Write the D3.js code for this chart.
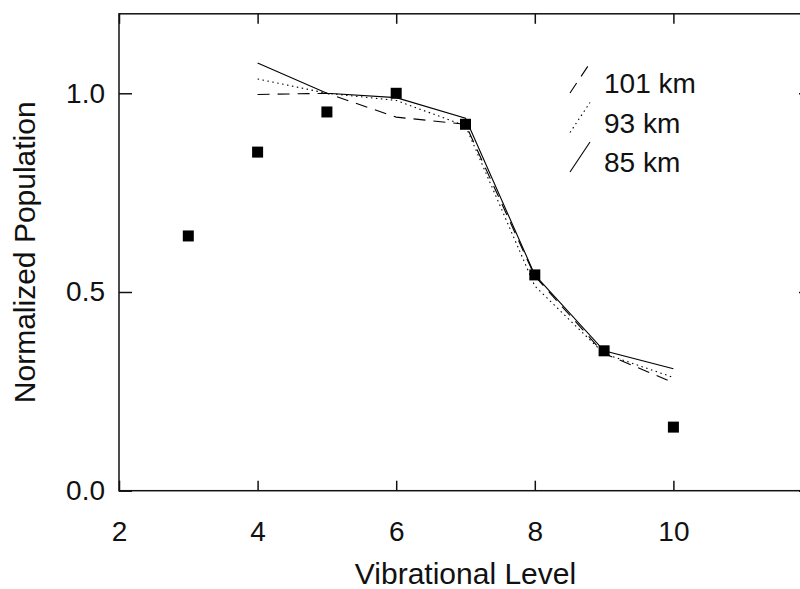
<!DOCTYPE html>
<html>
<head>
<meta charset="utf-8">
<script src="https://cdn.jsdelivr.net/npm/d3@7"></script>
<style>
  body { margin: 0; background: #fff; }
  svg { display: block; }
  text { font-family: "Liberation Sans", Arial, Helvetica, sans-serif; fill: #111; }
</style>
</head>
<body>
<svg id="chart" width="800" height="589"></svg>
<script>
// measured populations (squares)
const levels = [3, 4, 5, 6, 7, 8, 9, 10];
const measured = [0.641, 0.852, 0.953, 1.0, 0.922, 0.543, 0.352, 0.160];

// model curves, one per altitude
const modelLevels = [4, 5, 6, 7, 8, 9, 10];
const model101 = [0.997, 1.0, 0.94, 0.922, 0.54, 0.345, 0.272];
const model93 = [1.036, 1.0, 0.982, 0.918, 0.515, 0.345, 0.285];
const model85 = [1.076, 1.0, 0.989, 0.937, 0.543, 0.352, 0.307];

const legendNames = ["101 km", "93 km", "85 km"];
const xTicks = [2, 4, 6, 8, 10];
const yTicks = [0, 0.5, 1.0];

const svg = d3.select("#chart");

const plotLeft = 119, plotRight = 812, plotTop = 13.8, plotBottom = 490.7;

const x = d3.scaleLinear().domain([2, 12]).range([plotLeft, plotRight]);
const y = d3.scaleLinear().domain([0, 1.2]).range([plotBottom, plotTop]);

const fontSize = "28px";
const titleSize = "30px";

/**
 * Draws an inward-ticked axis and strips its domain path.
 */
function drawAxis(axis, tx, ty, withLabels) {
  let g = svg.append("g")
    .attr("transform", "translate(" + tx + "," + ty + ")")
    .call(axis);
  g.select(".domain").remove();
  g.selectAll(".tick line").attr("stroke", "#111").attr("stroke-width", 1.5);
  if (withLabels) {
    g.selectAll(".tick text")
      .attr("font-size", fontSize)
      .attr("fill", "#111");
  }
  return g;
}

// bottom axis with labels
drawAxis(
  d3.axisBottom(x).tickValues(xTicks).tickSizeInner(-10).tickSizeOuter(0).tickPadding(30),
  0, plotBottom, true
);
// top axis, ticks only
drawAxis(
  d3.axisTop(x).tickValues(xTicks).tickSizeInner(-10).tickSizeOuter(0).tickFormat(""),
  0, plotTop, false
);
// left axis with labels
drawAxis(
  d3.axisLeft(y).tickValues(yTicks).tickSizeInner(-13).tickSizeOuter(0)
    .tickPadding(14).tickFormat(d3.format(".1f")),
  plotLeft, 0, true
);
// right axis, ticks only
drawAxis(
  d3.axisRight(y).tickValues(yTicks).tickSizeInner(-13).tickSizeOuter(0).tickFormat(""),
  plotRight, 0, false
);

// frame
svg.append("rect")
  .attr("x", plotLeft)
  .attr("y", plotTop)
  .attr("width", plotRight - plotLeft)
  .attr("height", plotBottom - plotTop)
  .attr("fill", "none")
  .attr("stroke", "#111")
  .attr("stroke-width", 1.5);

// model curves
const curves = [
  { name: legendNames[0], values: model101, dash: "12,8" },
  { name: legendNames[1], values: model93, dash: "1.5,3.5" },
  { name: legendNames[2], values: model85, dash: null }
];

const line = d3.line()
  .x((d) => x(d[0]))
  .y((d) => y(d[1]));

curves.forEach(function (c) {
  svg.append("path")
    .datum(modelLevels.map((lv, i) => [lv, c.values[i]]))
    .attr("d", line)
    .attr("fill", "none")
    .attr("stroke", "#000")
    .attr("stroke-width", 1.1)
    .attr("stroke-dasharray", c.dash);
});

// measured squares
const sq = 11;
svg.selectAll("rect.pt")
  .data(levels.map((lv, i) => [lv, measured[i]]))
  .enter()
  .append("rect")
  .attr("class", "pt")
  .attr("x", (d) => x(d[0]) - sq / 2)
  .attr("y", (d) => y(d[1]) - sq / 2)
  .attr("width", sq)
  .attr("height", sq)
  .attr("fill", "#000");

// legend: slanted line samples beside labels
curves.forEach(function (c, i) {
  let base = 93 + i * 39.5;
  svg.append("line")
    .attr("x1", 570)
    .attr("y1", base)
    .attr("x2", 590)
    .attr("y2", base - 30)
    .attr("stroke", "#000")
    .attr("stroke-width", 1.1)
    .attr("stroke-dasharray", c.dash);
  svg.append("text")
    .text(c.name)
    .attr("x", 604)
    .attr("y", base)
    .attr("font-size", fontSize);
});

// axis titles
svg.append("text")
  .text("Vibrational Level")
  .attr("x", (plotLeft + plotRight) / 2)
  .attr("y", 584)
  .attr("text-anchor", "middle")
  .attr("font-size", titleSize);

svg.append("text")
  .text("Normalized Population")
  .attr("text-anchor", "middle")
  .attr("font-size", titleSize)
  .attr("transform", "translate(35," + (plotTop + plotBottom) / 2 + ") rotate(-90)");
</script>
</body>
</html>
